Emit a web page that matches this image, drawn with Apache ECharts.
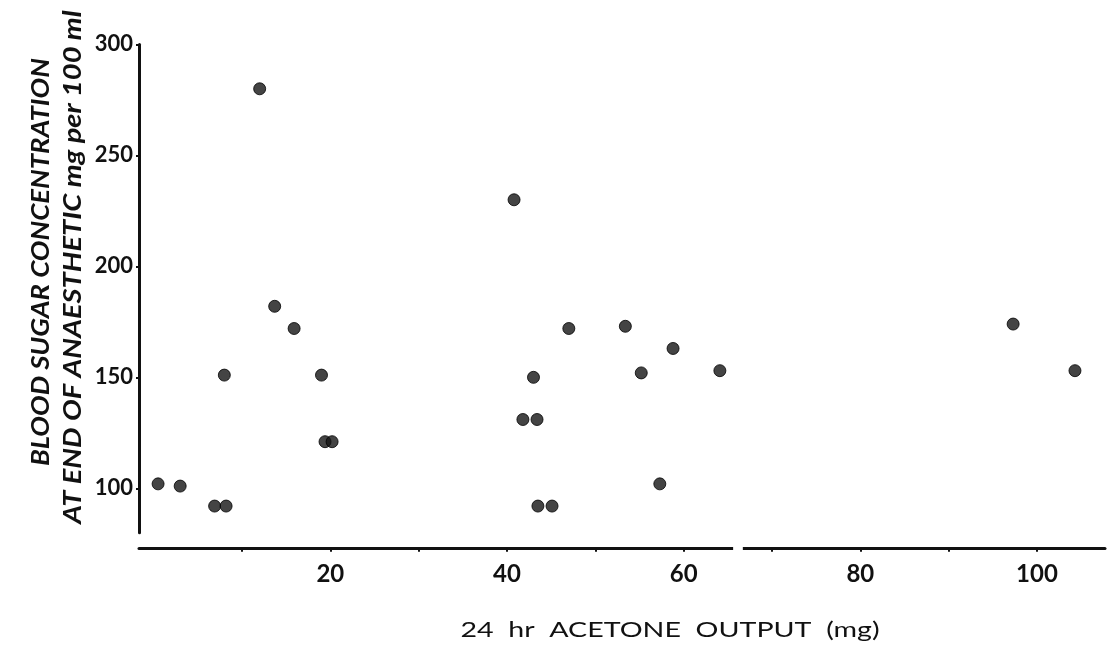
<!DOCTYPE html>
<html>
<head>
<meta charset="utf-8">
<script src="https://cdn.jsdelivr.net/npm/echarts@6/dist/echarts.min.js"></script>
<style>html,body{margin:0;padding:0;background:#fff}#c{width:1107px;height:646px}</style>
</head>
<body>
<div id="c"></div>
<script>
const acetone = [0.5, 3.0, 6.9, 8.2, 8.0, 12.0, 13.7, 15.9, 19.0, 19.4, 20.2, 40.8, 41.8, 43.4, 43.0, 43.5, 45.1, 47.0, 53.4, 55.2, 57.3, 58.8, 64.1, 97.3, 104.3];
const sugar = [102, 101, 92, 92, 151, 280, 182, 172, 151, 121, 121, 230, 131, 131, 150, 92, 92, 172, 173, 152, 102, 163, 153, 174, 153];
const xTicks = [10, 20, 30, 40, 50, 60, 70, 80, 90, 100];
const xLabels = [20, 40, 60, 80, 100];
const yLabels = [100, 150, 200, 250, 300];
const xTitle = '24  hr  ACETONE  OUTPUT  (mg)';
const yTitle1 = 'BLOOD SUGAR CONCENTRATION';
const yTitle2 = 'AT END OF ANAESTHETIC mg per 100 ml';

const points = acetone.map((v, i) => [v, sugar[i]]);
const chart = echarts.init(document.getElementById('c'));
chart.setOption({
  animation: false,
  backgroundColor: '#fff',
  grid: { left: 139, right: 2, top: 44.4, bottom: 113.3, outerBoundsMode: 'none', containLabel: false },
  xAxis: {
    type: 'value', min: -1.66, max: 107.7, offset: 16,
    splitLine: { show: false },
    axisLine: { show: true, onZero: false, lineStyle: { color: '#111', width: 3 } },
    axisTick: { show: true, customValues: xTicks, length: 3, lineStyle: { color: '#111', width: 2 } },
    axisLabel: { customValues: xLabels, margin: 14, color: '#111', fontFamily: 'Lato', fontWeight: 'bold', fontSize: 24 }
  },
  yAxis: {
    type: 'value', min: 80, max: 300,
    splitLine: { show: false },
    axisLine: { show: true, onZero: false, lineStyle: { color: '#111', width: 3 } },
    axisTick: { show: true, customValues: yLabels, length: 3, lineStyle: { color: '#111', width: 2 } },
    axisLabel: { customValues: yLabels, margin: 6, color: '#111', fontFamily: 'Lato', fontWeight: 'bold', fontSize: 22 }
  },
  series: [{
    type: 'scatter', data: points, symbol: 'circle', symbolSize: 12,
    itemStyle: { color: '#151515', borderColor: '#000', borderWidth: 1 }
  }]
});
const a = chart.convertToPixel({ xAxisIndex: 0 }, 65.6);
const b = chart.convertToPixel({ xAxisIndex: 0 }, 66.7);
chart.setOption({
  graphic: [
    { type: 'rect', shape: { x: a, y: 543, width: b - a, height: 12 }, style: { fill: '#fff' }, z: 100 },
    { type: 'text', x: 670, y: 630, scaleX: 1.3,
      style: { text: xTitle, fill: '#111', font: 'normal 22px Lato', align: 'center', verticalAlign: 'middle' } },
    { type: 'text', x: 41, y: 262, rotation: Math.PI / 2, scaleX: 1.1,
      style: { text: yTitle1, fill: '#111', font: 'italic bold 25px Lato', align: 'center', verticalAlign: 'middle' } },
    { type: 'text', x: 73, y: 267, rotation: Math.PI / 2, scaleX: 1.16,
      style: { text: yTitle2, fill: '#111', font: 'italic bold 25px Lato', align: 'center', verticalAlign: 'middle' } }
  ]
});
</script>
</body>
</html>
